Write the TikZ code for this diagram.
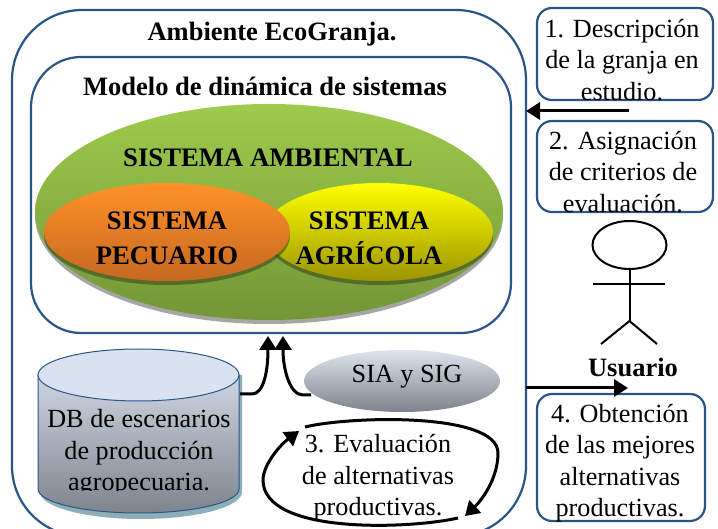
\documentclass[tikz,border=0pt]{standalone}
\usepackage{fontspec}
\setmainfont{Liberation Serif}
\usetikzlibrary{shapes.geometric,arrows.meta}
\definecolor{frameblue}{HTML}{2A5588}
\definecolor{gtop}{RGB}{158,203,76}
\definecolor{gbot}{RGB}{115,150,55}
\definecolor{ytop}{RGB}{255,255,0}
\definecolor{ybot}{RGB}{155,148,0}
\definecolor{otop}{RGB}{255,145,40}
\definecolor{obot}{RGB}{198,104,32}
\definecolor{dbtop}{RGB}{205,214,226}
\definecolor{dbbot}{RGB}{125,132,142}
\definecolor{dblid}{RGB}{216,226,240}
\definecolor{dbshadow}{RGB}{140,175,185}
\definecolor{siatop}{RGB}{222,228,238}
\definecolor{siabot}{RGB}{125,130,140}
\definecolor{dropgreen}{RGB}{60,75,30}
\tikzset{
  frame/.style={draw=frameblue,line width=2.2pt,fill=white,rectangle,outer sep=0pt},
  stepbox/.style={frame,rounded corners=15pt,align=center,inner sep=0pt},
  oval/.style={ellipse,inner sep=0pt,align=center},
  sys/.style={font=\fontsize{26.7}{35}\bfseries\selectfont,align=center},
  flow/.style={line width=3pt,-{Triangle[length=14pt,width=17pt]}},
  stick/.style={line width=2pt,black},
  plain/.style={font=\fontsize{26.2}{31.5}\selectfont,align=center,inner sep=0pt},
  head/.style={font=\fontsize{26.5}{30}\bfseries\selectfont,inner sep=0pt}
}
\begin{document}
\begin{tikzpicture}[x=1pt,y=-1pt]
\useasboundingbox (0,0) rectangle (718,529);
\clip (0,0) rectangle (718,529);
% outer frame
\node[frame,rounded corners=70pt,minimum width=514pt,minimum height=526pt,anchor=north west] (outer) at (12,10) {};
\node[head] (t1) at (272,34) {Ambiente EcoGranja.};
% inner frame
\node[frame,rounded corners=50pt,minimum width=480pt,minimum height=276pt,anchor=north west] (inner) at (31,57) {};
\node[head] (t2) at (265,86) {Modelo de dinámica de sistemas};
% ellipses
\fill[black!35] (269,216) ellipse [x radius=234, y radius=108];
\node[oval,minimum width=468pt,minimum height=216pt,top color=gtop,bottom color=gbot] (amb) at (269,212) {};
\node[sys] (ta) at (268,158) {SISTEMA AMBIENTAL};
\fill[dropgreen,opacity=.6] (379,236) ellipse [x radius=114, y radius=49];
\node[oval,minimum width=228pt,minimum height=98pt,top color=ytop,bottom color=ybot] (agr) at (379,232) {};
\fill[dropgreen,opacity=.6] (167,236) ellipse [x radius=123, y radius=49];
\node[oval,minimum width=246pt,minimum height=98pt,top color=otop,bottom color=obot] (pec) at (167,232) {};
\node[sys] (tp) at (167,238) {SISTEMA\\PECUARIO};
\node[sys] (tg) at (369,238) {SISTEMA\\AGRÍCOLA};
% database
\fill[dbshadow] (40,375) -- (40,492) arc[start angle=180,end angle=0,x radius=101,y radius=27] -- (242,375) -- cycle;
\draw[draw=frameblue,line width=1pt,top color=dbtop,bottom color=dbbot]
  (38,375) -- (38,489) arc[start angle=180,end angle=0,x radius=100.5,y radius=24] -- (239,375) -- cycle;
\draw[draw=frameblue,line width=1pt,fill=dblid] (138.5,375) ellipse [x radius=100.5, y radius=26];
\coordinate (dbout) at (240,394);
\begin{scope}
\clip (30,400) rectangle (245,490);
\node[plain] (db) at (139,453) {DB de escenarios\\de producción\\agropecuaria.};
\end{scope}
% SIA
\node[oval,minimum width=196pt,minimum height=62pt,top color=siatop,bottom color=siabot] (sia) at (402,381) {};
\node[plain] (siat) at (407,377) {SIA y SIG};
\coordinate (siaout) at (311,395);
\draw[flow] (dbout) -- (252,394) .. controls (264,394) and (268,370) .. (268,336);
\draw[flow] (siaout) -- (303,395) .. controls (290,395) and (283,370) .. (283,336);
% evaluation
\node[plain] (ev) at (378,478) {3. Evaluación\\de alternativas\\productivas.};
\coordinate (lt) at (305,427);
\coordinate (rb) at (458,518);
\draw[flow] (lt) .. controls (350,416) and (498,412) .. (498,453) .. controls (498,480) and (480,502) .. (465,516);
\draw[flow] (rb) .. controls (410,529) and (263,535) .. (263,480) .. controls (263,465) and (280,445) .. (299,431);
% right boxes
\node[stepbox,minimum width=176pt,minimum height=92pt,anchor=north west] (b1) at (537,8) {};
\node[plain] (t1b) at (622,60) {1. Descripción\\de la granja en\\estudio.};
\node[stepbox,minimum width=176pt,minimum height=91pt,anchor=north west] (b2) at (537,121) {};
\node[plain] (t2b) at (623,172) {2. Asignación\\de criterios de\\evaluación.};
\node[stepbox,minimum width=168pt,minimum height=127pt,anchor=north west] (b4) at (537,394) {};
\node[plain] (t4b) at (620,463) {4. Obtención\\de las mejores\\alternativas\\productivas.};
\coordinate (a1s) at (629,111);
\coordinate (a4e) at (628,388);
\draw[flow] (a1s) -- (outer.east |- a1s);
\draw[flow] (outer.east |- a4e) -- (a4e);
% user
\node[draw,stick,ellipse,minimum width=74pt,minimum height=48pt,inner sep=0pt] (uh) at (629.5,245) {};
\coordinate (hip) at (629.5,321);
\coordinate (la) at (593,284);
\coordinate (ra) at (665,284);
\coordinate (ll) at (601,344);
\coordinate (rl) at (657,344);
\draw[stick] (uh.south) -- (hip);
\draw[stick] (la) -- (ra);
\draw[stick] (ll) -- (hip) -- (rl);
\node[head] (usr) at (633,367) {Usuario};
\end{tikzpicture}
\end{document}
